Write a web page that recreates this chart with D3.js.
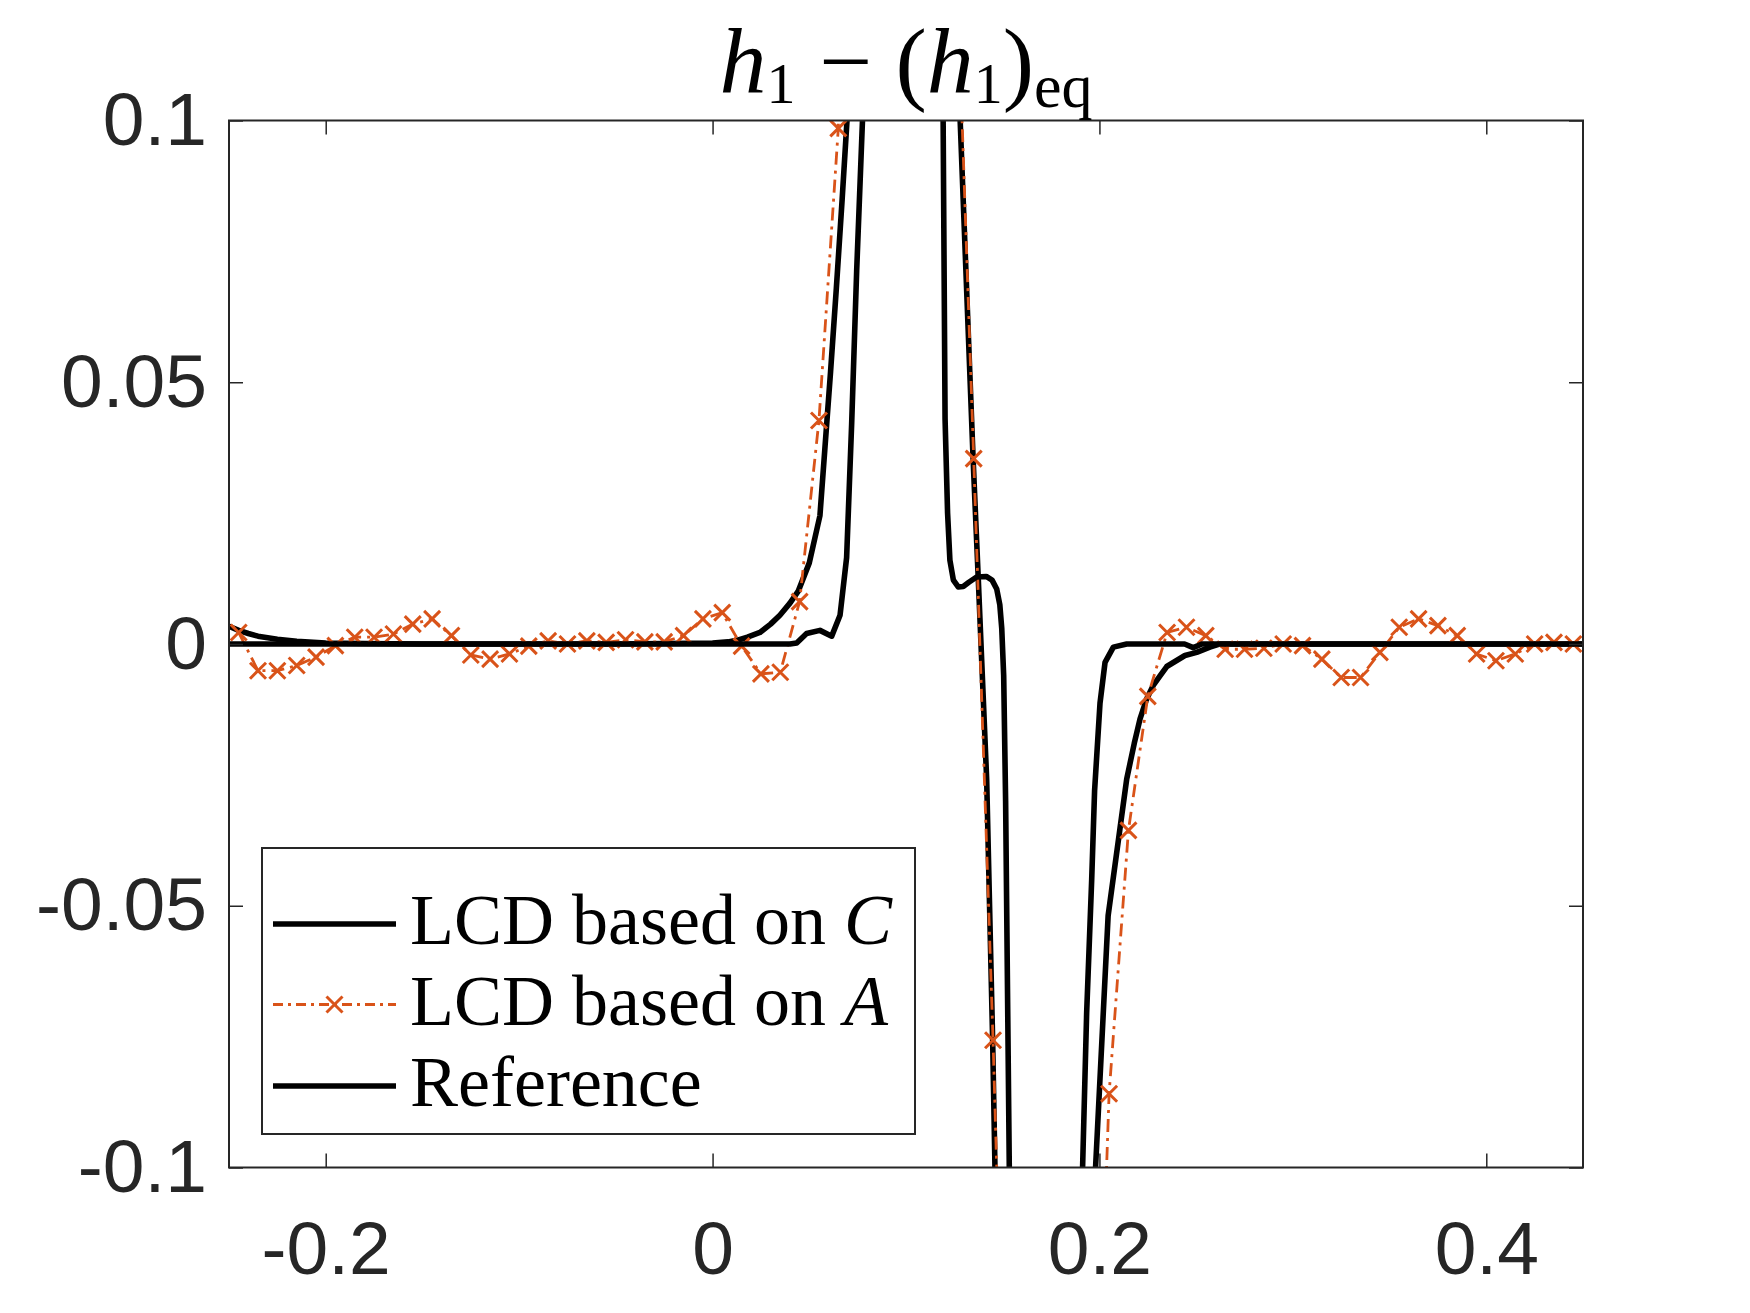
<!DOCTYPE html>
<html>
<head>
<meta charset="utf-8">
<script src="https://cdn.jsdelivr.net/npm/d3@7"></script>
<style>
  body { margin: 0; background: #fff; }
</style>
</head>
<body>
<div id="chart"></div>
<script>
// ---- data ----
const xTicks = [-0.2, 0, 0.2, 0.4]
const yTicks = [-0.1, -0.05, 0, 0.05, 0.1]

// LCD based on A (orange, one marker per sample)
const lcdAx = [-0.255, -0.245, -0.235, -0.225, -0.215, -0.205, -0.195, -0.185, -0.175, -0.165,
  -0.155, -0.145, -0.135, -0.125, -0.115, -0.105, -0.095, -0.085, -0.075, -0.065,
  -0.055, -0.045, -0.035, -0.025, -0.015, -0.005, 0.005, 0.015, 0.025, 0.035,
  0.045, 0.055, 0.065, 0.075, 0.085, 0.095, 0.105, 0.115, 0.125, 0.135,
  0.145, 0.155, 0.165, 0.175, 0.185, 0.195, 0.205, 0.215, 0.225, 0.235,
  0.245, 0.255, 0.265, 0.275, 0.285, 0.295, 0.305, 0.315, 0.325, 0.335,
  0.345, 0.355, 0.365, 0.375, 0.385, 0.395, 0.405, 0.415, 0.425, 0.435,
  0.445, 0.455]
const lcdAy = [0.006, 0.0022, -0.0051, -0.0051, -0.0041, -0.0025, -0.0003, 0.0013, 0.0013, 0.0019,
  0.0038, 0.0048, 0.0016, -0.0021, -0.0029, -0.0019, -0.0004, 0.0006, 0.0, 0.0006,
  0.0003, 0.0008, 0.0004, 0.0004, 0.0016, 0.0048, 0.006, -0.0004, -0.0057, -0.0054,
  0.0081, 0.0427, 0.0985, 0.30, 0.55, 0.75, 0.70, 0.50, 0.143, 0.0354,
  -0.0757, -0.204, -0.40, -0.50, -0.40, -0.194, -0.0859, -0.0356, -0.0100, 0.0022,
  0.0032, 0.0016, -0.0010, -0.0010, -0.0008, 0.0, -0.0003, -0.0029, -0.0064, -0.0064,
  -0.0016, 0.0032, 0.0048, 0.0035, 0.0016, -0.0019, -0.0032, -0.0019, 0.0, 0.0003,
  0.0, 0.0003]

// LCD based on C (black, smooth one)
const lcdCx = [-0.25, -0.245, -0.24, -0.235, -0.225, -0.215, -0.2, -0.18, -0.15, -0.1,
  -0.05, 0, 0.008, 0.0125, 0.018, 0.0245, 0.03, 0.0348, 0.04, 0.0443,
  0.05, 0.0555, 0.058, 0.061, 0.064, 0.067, 0.0695, 0.072, 0.08, 0.1,
  0.12, 0.125, 0.128, 0.1347, 0.1373, 0.1417, 0.1448, 0.146, 0.15, 0.17,
  0.19, 0.198, 0.2045, 0.2106, 0.2141, 0.218, 0.221, 0.2244, 0.228, 0.2315,
  0.2348, 0.2442, 0.2503, 0.2571, 0.262, 0.3, 0.45]
const lcdCy = [0.0034, 0.0026, 0.002, 0.0015, 0.0009, 0.0005, 0.0002, 0.0001, 0, 0,
  0, 0.0002, 0.0004, 0.0007, 0.0013, 0.0022, 0.0038, 0.0055, 0.0078, 0.0101,
  0.0155, 0.0245, 0.037, 0.052, 0.068, 0.085, 0.1, 0.13, 0.3, 0.5,
  0.3, 0.16, 0.1, 0.0353, 0.013, -0.0258, -0.0758, -0.1, -0.2, -0.4,
  -0.2, -0.1, -0.0519, -0.0353, -0.0258, -0.019, -0.0143, -0.0105, -0.0078, -0.006,
  -0.0043, -0.0022, -0.0016, -0.0006, 0, 0, 0]

// Reference (black, sharp one)
const refX = [-0.25, 0.0, 0.04, 0.0435, 0.0486, 0.0555, 0.0616, 0.0659, 0.0693, 0.0719,
  0.0745, 0.0775, 0.08, 0.1, 0.118, 0.1192, 0.1202, 0.1215, 0.1227, 0.1245,
  0.127, 0.1296, 0.1325, 0.1365, 0.1415, 0.1445, 0.1469, 0.1485, 0.1495, 0.1505,
  0.1515, 0.1534, 0.156, 0.17, 0.188, 0.1913, 0.1934, 0.196, 0.1975, 0.2003,
  0.2029, 0.2072, 0.2141, 0.244, 0.2485, 0.253, 0.45]
const refY = [0, 0, 0, 0.0002, 0.002, 0.0026, 0.0015, 0.0055, 0.0165, 0.042,
  0.0713, 0.1, 0.2, 0.5, 0.2, 0.1, 0.043, 0.025, 0.016, 0.0122,
  0.0109, 0.011, 0.0118, 0.0128, 0.0129, 0.0122, 0.0105, 0.0075, 0.003, -0.006,
  -0.03, -0.1, -0.2, -0.4, -0.2, -0.1, -0.0704, -0.045, -0.028, -0.0113,
  -0.0035, -0.0006, 0, 0, -0.0007, 0, 0]

const legendNames = ["LCD based on ", "LCD based on ", "Reference"]
const legendSymbols = ["C", "A", ""]

// ---- drawing ----
const width = 1750
const height = 1313
const margin = {top: 120.5, right: 167, bottom: 145.5, left: 229}
const axisColor = "#262626"
const orange = "#D95319"
const blackWidth = 5.6
const orangeWidth = 2.8
const dash = "13,6,3,6"

const svg = d3.select("#chart")
    .append("svg")
    .attr("width", width)
    .attr("height", height)
    .attr("viewBox", [0, 0, width, height])
    .style("font-family", "'Liberation Sans', Arial, sans-serif")

svg.append("rect").attr("width", width).attr("height", height).attr("fill", "#fff")

const x = d3.scaleLinear()
    .domain([-0.25, 0.45])
    .range([margin.left, width - margin.right])

const y = d3.scaleLinear()
    .domain([-0.1, 0.1])
    .range([height - margin.bottom, margin.top])

svg.append("defs").append("clipPath")
    .attr("id", "plot-clip")
    .append("rect")
    .attr("x", margin.left)
    .attr("y", margin.top)
    .attr("width", width - margin.left - margin.right)
    .attr("height", height - margin.top - margin.bottom)

const layer_lines = svg.append("g").attr("clip-path", "url(#plot-clip)")
const line = d3.line().x(d => x(d[0])).y(d => y(d[1]))

const lcdC = d3.zip(lcdCx, lcdCy)
const lcdA = d3.zip(lcdAx, lcdAy)
const ref = d3.zip(refX, refY)

layer_lines.append("path")
    .attr("fill", "none")
    .attr("stroke", "#000")
    .attr("stroke-width", blackWidth)
    .attr("stroke-linejoin", "round")
    .attr("d", line(lcdC))

layer_lines.append("path")
    .attr("fill", "none")
    .attr("stroke", orange)
    .attr("stroke-width", orangeWidth)
    .attr("stroke-dasharray", dash)
    .attr("d", line(lcdA))

const cross = s => `M${-s},${-s}L${s},${s}M${-s},${s}L${s},${-s}`

layer_lines.append("g")
    .selectAll("path")
    .data(lcdA)
    .join("path")
    .attr("transform", d => `translate(${x(d[0])},${y(d[1])})`)
    .attr("d", cross(8))
    .attr("stroke", orange)
    .attr("stroke-width", 3)

layer_lines.append("path")
    .attr("fill", "none")
    .attr("stroke", "#000")
    .attr("stroke-width", blackWidth)
    .attr("stroke-linejoin", "round")
    .attr("d", line(ref))

// axes: inward ticks on all four sides
const tickFmt = d => String(d)
const fontSize = 75

const styleAxis = g => {
    g.select(".domain").remove()
    g.selectAll(".tick line").attr("stroke", axisColor).attr("stroke-width", 1.5)
    g.selectAll(".tick text").attr("fill", axisColor).style("font-size", fontSize + "px")
}

svg.append("g")
    .attr("transform", `translate(0,${height - margin.bottom})`)
    .call(d3.axisBottom(x).tickValues(xTicks).tickFormat(tickFmt).tickSizeInner(-14).tickSizeOuter(0).tickPadding(53))
    .call(styleAxis)

svg.append("g")
    .attr("transform", `translate(0,${margin.top})`)
    .call(d3.axisTop(x).tickValues(xTicks).tickFormat("").tickSizeInner(-14).tickSizeOuter(0))
    .call(styleAxis)

svg.append("g")
    .attr("transform", `translate(${margin.left},0)`)
    .call(d3.axisLeft(y).tickValues(yTicks).tickFormat(tickFmt).tickSizeInner(-14).tickSizeOuter(0).tickPadding(22))
    .call(styleAxis)

svg.append("g")
    .attr("transform", `translate(${width - margin.right},0)`)
    .call(d3.axisRight(y).tickValues(yTicks).tickFormat("").tickSizeInner(-14).tickSizeOuter(0))
    .call(styleAxis)

svg.append("rect")
    .attr("x", margin.left)
    .attr("y", margin.top)
    .attr("width", width - margin.left - margin.right)
    .attr("height", height - margin.top - margin.bottom)
    .attr("fill", "none")
    .attr("stroke", axisColor)
    .attr("stroke-width", 2)

// title  h_1 - (h_1)_eq
const title = svg.append("text")
    .attr("x", (margin.left + width - margin.right) / 2)
    .attr("y", 93)
    .attr("text-anchor", "middle")
    .style("font-family", "'Liberation Serif', 'Times New Roman', serif")
    .style("font-size", "94px")
    .attr("fill", "#000")
title.append("tspan").style("font-style", "italic").text("h")
title.append("tspan").attr("dy", 10).style("font-size", "58px").text("1")
title.append("tspan").attr("dy", -10).text(" \u2212 (")
title.append("tspan").style("font-style", "italic").text("h")
title.append("tspan").attr("dy", 10).style("font-size", "58px").text("1")
title.append("tspan").attr("dy", -10).text(")")
title.append("tspan").attr("dy", 14).style("font-size", "62px").text("eq")

// legend
const legend = svg.append("g")
legend.append("rect")
    .attr("x", 262)
    .attr("y", 848)
    .attr("width", 653)
    .attr("height", 286)
    .attr("fill", "#fff")
    .attr("stroke", axisColor)
    .attr("stroke-width", 2)

const rowY = [924, 1004.5, 1086]
const rows = legend.selectAll("g.row")
    .data(legendNames)
    .join("g")
    .attr("class", "row")
    .attr("transform", (d, i) => `translate(0,${rowY[i]})`)

rows.append("line")
    .attr("x1", 273)
    .attr("x2", 396)
    .attr("stroke", (d, i) => i === 1 ? orange : "#000")
    .attr("stroke-width", (d, i) => i === 1 ? orangeWidth : blackWidth)
    .attr("stroke-dasharray", (d, i) => i === 1 ? "10,5,3,5" : null)

rows.filter((d, i) => i === 1)
    .append("path")
    .attr("transform", "translate(334.5,0)")
    .attr("d", cross(8))
    .attr("stroke", orange)
    .attr("stroke-width", 3)

const labels = rows.append("text")
    .attr("x", 410)
    .attr("y", 20)
    .style("font-family", "'Liberation Serif', 'Times New Roman', serif")
    .style("font-size", "72px")
    .attr("fill", "#000")
labels.append("tspan").text(d => d)
labels.append("tspan").style("font-style", "italic").text((d, i) => legendSymbols[i])
</script>
</body>
</html>
